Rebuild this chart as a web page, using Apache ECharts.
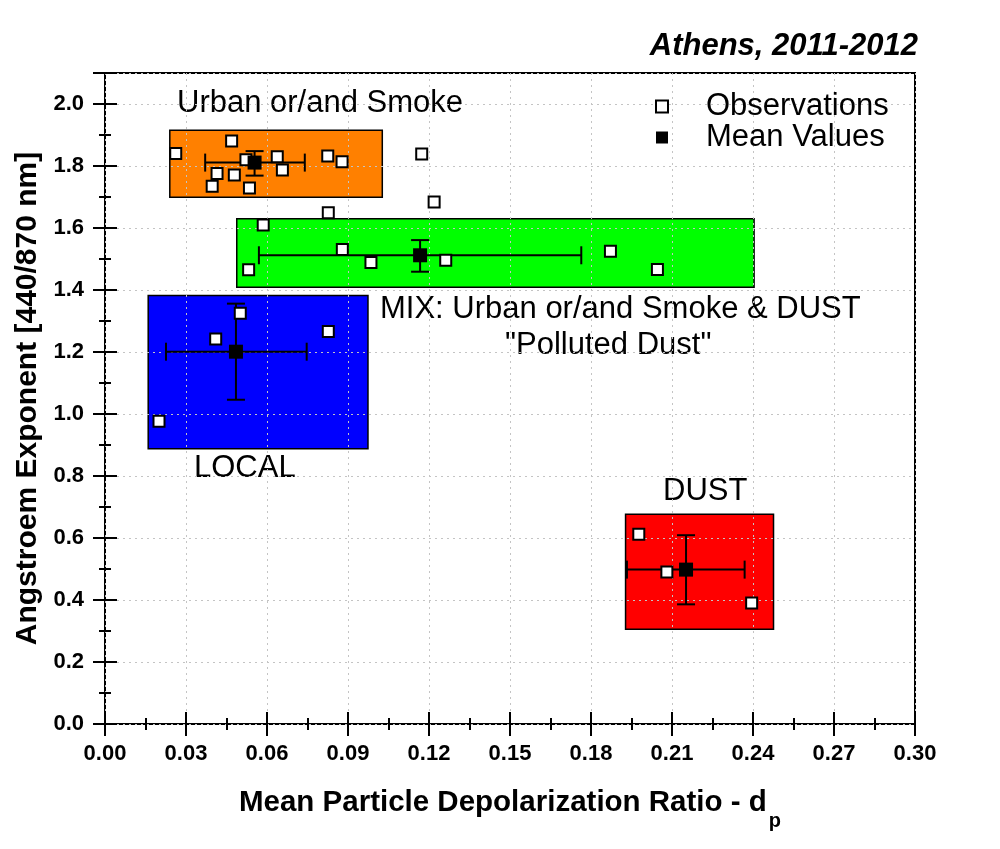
<!DOCTYPE html>
<html>
<head>
<meta charset="utf-8">
<script src="https://cdn.jsdelivr.net/npm/echarts@6/dist/echarts.min.js"></script>
<style>
html, body {margin: 0; padding: 0; background: #fff;}
#chart {width: 1000px; height: 849px;}
</style>
</head>
<body>
<div id="chart"></div>
<script>
// observations
var obs_x = [0.0262, 0.0469, 0.0522, 0.0415, 0.0397, 0.0479, 0.0535, 0.0638, 0.0657, 0.0825, 0.0878,
             0.0827, 0.1173, 0.1219, 0.0586,
             0.0532, 0.0879, 0.0985, 0.1262, 0.1872, 0.2046,
             0.0501, 0.0410, 0.0827, 0.0200,
             0.1977, 0.2081, 0.2395];
var obs_y = [1.840, 1.881, 1.820, 1.776, 1.735, 1.771, 1.729, 1.830, 1.787, 1.832, 1.814,
             1.649, 1.839, 1.684, 1.610,
             1.465, 1.531, 1.489, 1.496, 1.525, 1.466,
             1.325, 1.242, 1.266, 0.977,
             0.612, 0.490, 0.390];

// mean values + error bars (urban, mix, local, dust)
var mean_x = [0.0554, 0.1167, 0.0485, 0.2152];
var mean_y = [1.811, 1.512, 1.201, 0.498];
var err_x_lo = [0.0371, 0.0570, 0.0226, 0.1933];
var err_x_hi = [0.0740, 0.1764, 0.0747, 0.2369];
var err_y_lo = [1.769, 1.459, 1.046, 0.386];
var err_y_hi = [1.848, 1.561, 1.356, 0.609];

// class boxes
var box_x0 = [0.0240, 0.0488, 0.0160, 0.1928];
var box_x1 = [0.1027, 0.2404, 0.0974, 0.2476];
var box_y0 = [1.699, 1.409, 0.888, 0.306];
var box_y1 = [1.915, 1.630, 1.382, 0.677];
var box_colors = ['#ff8000', '#00ff00', '#0000ff', '#ff0000'];

// axes
var x_min = 0, x_max = 0.3, x_step = 0.03;
var y_min = 0, y_max = 2.1, y_step = 0.2;

var font = 'Liberation Sans, Arial, sans-serif';

var chart = echarts.init(document.getElementById('chart'));

var obs_data = obs_x.map(function (x, i) { return [x, obs_y[i]]; });
var mean_data = mean_x.map(function (x, i) { return [x, mean_y[i]]; });
var err_data = mean_x.map(function (x, i) {
    return [x, mean_y[i], err_x_lo[i], err_x_hi[i], err_y_lo[i], err_y_hi[i]];
});
var box_data = box_x0.map(function (x, i) { return [x, box_x1[i], box_y0[i], box_y1[i]]; });

// one axis = one set of ticks; crossing ticks need an inside and an outside copy
function tickAxis(pos, step, len, inside, isX, extra) {
    var a = {
        type: 'value',
        position: pos,
        offset: 0,
        min: isX ? x_min : y_min,
        max: isX ? x_max : y_max,
        interval: step,
        z: 1,
        axisLine: {show: false},
        axisTick: {show: true, inside: inside, length: len, lineStyle: {color: '#000', width: 2}},
        axisLabel: {show: false},
        splitLine: {show: false}
    };
    return Object.assign(a, extra || {});
}

function sideAxes(pos, isX, step) {
    return [
        tickAxis(pos, step, 12, true, isX),
        tickAxis(pos, step / 2, 6, false, isX),
        tickAxis(pos, step / 2, 6, true, isX)
    ];
}

var grid_line = {show: true, lineStyle: {color: '#c4c4c4', width: 1, type: [2, 4]}};

var option = {
    animation: false,
    textStyle: {fontFamily: font, color: '#000'},
    title: {
        text: 'Athens, 2011-2012',
        right: 82,
        top: 31,
        padding: 0,
        textStyle: {fontSize: 31, fontWeight: 'bold', fontStyle: 'italic', color: '#000', fontFamily: font}
    },
    legend: {
        orient: 'vertical',
        left: 655,
        top: 91,
        padding: 0,
        itemGap: 0,
        itemWidth: 12,
        itemHeight: 12,
        textStyle: {fontSize: 31, lineHeight: 30, color: '#000', padding: [0, 0, 0, 33], fontFamily: font},
        data: [
            {name: 'Observations', icon: 'rect', itemStyle: {color: '#fff', borderColor: '#000', borderWidth: 2}},
            {name: 'Mean Values', icon: 'rect', itemStyle: {color: '#000', borderColor: '#000', borderWidth: 0}}
        ]
    },
    grid: {
        left: 105, top: 73, width: 810, height: 651,
        show: true, borderColor: '#000', borderWidth: 2,
        containLabel: false, outerBoundsMode: 'none'
    },
    xAxis: [
        tickAxis('bottom', x_step, 12, false, true, {
            axisLabel: {
                show: true, margin: 19, fontSize: 22, fontWeight: 'bold', color: '#000', fontFamily: font,
                formatter: function (v) { return v.toFixed(2); }
            },
            splitLine: grid_line,
            name: '{a|Mean Particle Depolarization Ratio - d}{s|p}',
            nameLocation: 'middle',
            nameGap: 64,
            nameTextStyle: {
                rich: {
                    a: {fontSize: 29.5, fontWeight: 'bold', verticalAlign: 'top', color: '#000', fontFamily: font},
                    s: {fontSize: 20, fontWeight: 'bold', lineHeight: 43, verticalAlign: 'bottom', padding: [23, 0, 0, 2], color: '#000', fontFamily: font}
                }
            }
        })
    ].concat(sideAxes('bottom', true, x_step),
             [tickAxis('top', x_step, 12, false, true)],
             sideAxes('top', true, x_step)),
    yAxis: [
        tickAxis('left', y_step, 12, false, false, {
            axisLabel: {
                show: true, margin: 21, fontSize: 22, fontWeight: 'bold', color: '#000', fontFamily: font,
                formatter: function (v) { return v > 2.05 ? '' : v.toFixed(1); }
            },
            splitLine: grid_line,
            name: 'Angstroem Exponent [440/870 nm]',
            nameLocation: 'middle',
            nameGap: 61,
            nameRotate: 90,
            nameTextStyle: {fontSize: 30, fontWeight: 'bold', lineHeight: 30, color: '#000', fontFamily: font}
        })
    ].concat(sideAxes('left', false, y_step),
             [tickAxis('right', y_step, 12, false, false)],
             sideAxes('right', false, y_step)),
    graphic: [
        {type: 'text', left: 177, top: 88, style: {text: 'Urban or/and Smoke', fontSize: 31, fill: '#000', fontFamily: font}},
        {type: 'text', left: 380, top: 294, style: {text: 'MIX: Urban or/and Smoke & DUST', fontSize: 31, fill: '#000', fontFamily: font}},
        {type: 'text', left: 505, top: 330, style: {text: '"Polluted Dust"', fontSize: 31, fill: '#000', fontFamily: font}},
        {type: 'text', left: 194, top: 453, style: {text: 'LOCAL', fontSize: 31, fill: '#000', fontFamily: font}},
        {type: 'text', left: 663, top: 476, style: {text: 'DUST', fontSize: 31, fill: '#000', fontFamily: font}}
    ],
    series: [
        {
            type: 'custom',
            name: 'boxes',
            z: 0,
            silent: true,
            data: box_data,
            renderItem: function (params, api) {
                var p0 = api.coord([api.value(0), api.value(3)]);
                var p1 = api.coord([api.value(1), api.value(2)]);
                return {
                    type: 'rect',
                    shape: {x: p0[0], y: p0[1], width: p1[0] - p0[0], height: p1[1] - p0[1]},
                    style: {fill: box_colors[params.dataIndex], stroke: '#000', lineWidth: 1.5}
                };
            }
        },
        {
            type: 'custom',
            name: 'errors',
            z: 3,
            silent: true,
            data: err_data,
            renderItem: function (params, api) {
                var xl = api.coord([api.value(2), api.value(1)]);
                var xh = api.coord([api.value(3), api.value(1)]);
                var yl = api.coord([api.value(0), api.value(4)]);
                var yh = api.coord([api.value(0), api.value(5)]);
                var cap = 9;
                var st = {stroke: '#000', lineWidth: 2};
                function ln(a, b, c, d) {
                    return {type: 'line', shape: {x1: a, y1: b, x2: c, y2: d}, style: st};
                }
                return {
                    type: 'group',
                    children: [
                        ln(xl[0], xl[1], xh[0], xh[1]),
                        ln(xl[0], xl[1] - cap, xl[0], xl[1] + cap),
                        ln(xh[0], xh[1] - cap, xh[0], xh[1] + cap),
                        ln(yl[0], yl[1], yh[0], yh[1]),
                        ln(yl[0] - cap, yl[1], yl[0] + cap, yl[1]),
                        ln(yh[0] - cap, yh[1], yh[0] + cap, yh[1])
                    ]
                };
            }
        },
        {
            type: 'scatter',
            name: 'Observations',
            z: 4,
            symbol: 'rect',
            symbolSize: 11,
            itemStyle: {color: '#fff', borderColor: '#000', borderWidth: 2, opacity: 1},
            data: obs_data
        },
        {
            type: 'scatter',
            name: 'Mean Values',
            z: 5,
            symbol: 'rect',
            symbolSize: 14,
            itemStyle: {color: '#000', opacity: 1},
            data: mean_data
        }
    ]
};

chart.setOption(option);
</script>
</body>
</html>
